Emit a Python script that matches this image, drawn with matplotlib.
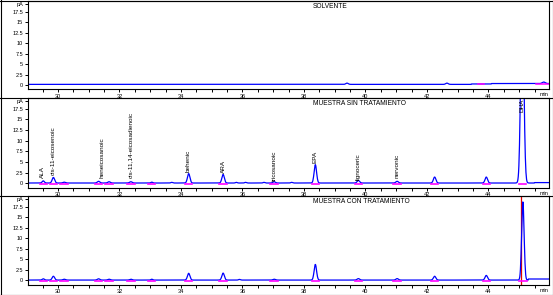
import numpy as np
import matplotlib
matplotlib.use("Agg")
import matplotlib.pyplot as plt
from matplotlib.lines import Line2D

plt.rcParams['font.family'] = ['Liberation Sans', 'DejaVu Sans']

# ---------------- data ----------------
x_ticks = [30, 32, 34, 36, 38, 40, 42, 44]
y_ticks = [0, 2.5, 5, 7.5, 10, 12.5, 15, 17.5]
y_tick_labels = ["0", "2.5", "5", "7.5", "10", "12.5", "15", "17.5"]

titles = ["SOLVENTE", "MUESTRA SIN TRATAMIENTO", "MUESTRA CON TRATAMIENTO"]

# solvent
solv_rt = [39.4, 42.65, 45.8]
solv_h = [0.3, 0.3, 0.35]
solv_w = [0.04, 0.04, 0.05]
solv_base_t = [29.0, 43.45, 44.1]
solv_base_v = [0.15, 0.25, 0.35]
solv_int_start = [43.65, 45.55]
solv_int_end = [43.85, 46.0]

# sample without treatment
sin_rt = [29.52, 29.85, 30.2, 31.32, 31.66, 32.37, 33.05, 33.7, 34.25, 35.37,
          35.8, 36.1, 36.7, 37.03, 37.6, 38.37, 39.77, 41.03, 42.25, 43.93, 45.1]
sin_h = [0.5, 1.3, 0.2, 0.4, 0.3, 0.3, 0.2, 0.15, 2.2, 2.0,
         0.15, 0.15, 0.15, 0.3, 0.15, 4.3, 0.6, 0.4, 1.4, 1.4, 45.0]
sin_w = [0.035, 0.04, 0.04, 0.04, 0.04, 0.04, 0.03, 0.03, 0.04, 0.04,
         0.03, 0.03, 0.03, 0.04, 0.03, 0.04, 0.04, 0.04, 0.04, 0.04, 0.05]
sin_base_t = [29.0, 45.5]
sin_base_v = [0.1, 0.2]

# sample with treatment
con_rt = [29.52, 29.85, 30.2, 31.32, 31.66, 32.37, 33.05, 34.25, 35.37, 35.9,
          37.03, 38.37, 39.77, 41.03, 42.25, 43.93, 45.12]
con_h = [0.3, 0.9, 0.2, 0.3, 0.2, 0.2, 0.2, 1.6, 1.65, 0.15,
         0.2, 3.7, 0.35, 0.35, 0.9, 1.1, 18.5]
con_w = [0.035, 0.04, 0.04, 0.04, 0.04, 0.04, 0.03, 0.04, 0.04, 0.03,
         0.04, 0.04, 0.04, 0.04, 0.04, 0.04, 0.04]
con_base_t = [29.0, 45.3]
con_base_v = [0.1, 0.35]
con_marker_rt = 45.06

# peak labels (sample without treatment)
label_names = ["ALA", "cis-11-eicosenoic", "heneicosanoic", "cis-11,14-eicosadienoic",
               "behenic", "ARA", "tricosanoic", "EPA", "lignoceric", "nervonic", "DHA"]
label_rt = [29.5, 29.84, 31.42, 32.37, 34.23, 35.37, 37.03, 38.37, 39.77, 41.03, 45.1]
label_y = [1.25, 2.0, 1.25, 1.25, 2.6, 2.4, 0.5, 4.7, 0.8, 1.25, 16.8]

# ---------------- helpers ----------------
t = np.arange(29.0, 46.05, 0.01)


def trace(rts, hs, ws, bt, bv):
    idx = np.searchsorted(bt, t, side='right') - 1
    y = np.array(bv)[np.clip(idx, 0, len(bv) - 1)].astype(float)
    for r, h, w in zip(rts, hs, ws):
        y = y + h * np.exp(-0.5 * ((t - r) / w) ** 2)
    return y


BLUE = '#0000ff'
MAG = '#ff00ff'

fig = plt.figure(figsize=(5.53, 2.95), dpi=100)
W, H = 553, 295
panels_px = [(1, 89), (98, 187.5), (196, 284.5)]
left_px, right_px = 28, 549
xlim = (29.024, 45.97)
ylim = (-0.95, 20.0)

axes = []
for top, bot in panels_px:
    ax = fig.add_axes([left_px / W, 1 - bot / H, (right_px - left_px) / W, (bot - top) / H])
    ax.set_xlim(*xlim)
    ax.set_ylim(*ylim)
    ax.set_xticks(x_ticks)
    ax.set_xticklabels([str(v) for v in x_ticks])
    ax.set_xticks(np.arange(29.5, 46.0, 0.5), minor=True)
    ax.set_yticks(y_ticks + [19.2])
    ax.set_yticklabels(y_tick_labels + ["pA"])
    ax.tick_params(axis='both', which='both', direction='out', length=2, width=0.7,
                   labelsize=4, pad=1.5, colors='black')
    for s in ax.spines.values():
        s.set_linewidth(0.8)
    ax.text(1.0, -0.035, "min", transform=ax.transAxes, ha='right', va='top', fontsize=4)
    axes.append(ax)

# panel 1 - solvent
ax = axes[0]
ax.plot(t, trace(solv_rt, solv_h, solv_w, solv_base_t, solv_base_v), color=BLUE, lw=0.9)
for s, e in zip(solv_int_start, solv_int_end):
    ax.plot([s, e], [0.15, 0.15], color=MAG, lw=1.1)

# panel 2 - sin tratamiento
ax = axes[1]
ax.plot(t, trace(sin_rt, sin_h, sin_w, sin_base_t, sin_base_v), color=BLUE, lw=0.9)
for r, h in zip(sin_rt, sin_h):
    if h >= 0.2:
        ax.plot([r - 0.12, r + 0.12], [-0.05, -0.05], color=MAG, lw=1.2, zorder=3)
for name, r, yb in zip(label_names, label_rt, label_y):
    ax.text(r, yb, name, rotation=90, ha='center', va='bottom', fontsize=4.6,
            clip_on=True)

# panel 3 - con tratamiento
ax = axes[2]
ax.axvline(con_marker_rt, color='#e00000', lw=0.9, zorder=1)
ax.plot(t, trace(con_rt, con_h, con_w, con_base_t, con_base_v), color=BLUE, lw=0.9,
        zorder=2)
for r, h in zip(con_rt, con_h):
    if h >= 0.2:
        ax.plot([r - 0.12, r + 0.12], [-0.05, -0.05], color=MAG, lw=1.2, zorder=3)

for ax, title in zip(axes, titles):
    ax.text(0.547, 0.935, title, transform=ax.transAxes, ha='left', va='center',
            fontsize=4.8)

# outer frames / separators
for yp in [0.5, 98, 196, 294.5]:
    fig.add_artist(Line2D([0, 1], [1 - yp / H, 1 - yp / H], color='black', lw=0.8,
                          transform=fig.transFigure))
for xp in [0.5, 552.5]:
    fig.add_artist(Line2D([xp / W, xp / W], [0, 1], color='black', lw=0.8,
                          transform=fig.transFigure))

fig.savefig("out.png", dpi=100)
